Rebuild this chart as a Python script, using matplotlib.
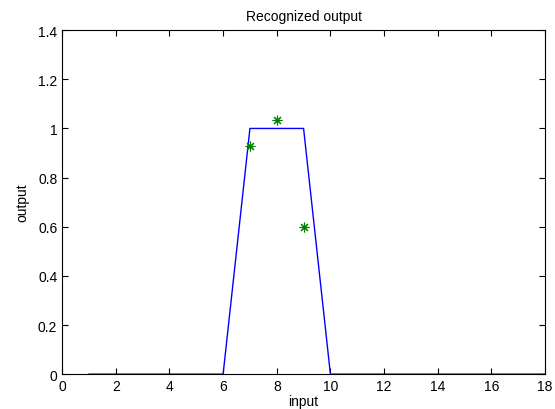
import matplotlib
matplotlib.use("Agg")
import matplotlib.pyplot as plt

plt.rcParams['font.family'] = ['Liberation Sans', 'DejaVu Sans']

x_line = [1, 2, 3, 4, 5, 6, 7, 8, 9, 10, 11, 12, 13, 14, 15, 16, 17, 18]
y_line = [0, 0, 0, 0, 0, 0, 1, 1, 1, 0, 0, 0, 0, 0, 0, 0, 0, 0]
x_pts = [7, 8, 9]
y_pts = [0.928, 1.036, 0.597]
xticks = list(range(0, 19, 2))
yticks = [0, 0.2, 0.4, 0.6, 0.8, 1, 1.2, 1.4]
ytick_labels = ['0', '0.2', '0.4', '0.6', '0.8', '1', '1.2', '1.4']

fig = plt.figure(figsize=(5.55, 4.10), dpi=100)
ax = fig.add_axes([0.112, 0.085, 0.870, 0.839])
ax.plot(x_line, y_line, color='#0000ff', lw=1.0)
ax.plot(x_pts, y_pts, linestyle='none', marker=(8, 2, 0), color='#008000',
        markersize=7, markeredgewidth=0.8)
ax.set_xlim(0, 18)
ax.set_ylim(0, 1.4)
ax.set_xticks(xticks)
ax.set_yticks(yticks)
ax.set_yticklabels(ytick_labels)
ax.tick_params(direction='in', top=True, right=True, length=4, labelsize=10, width=0.8)
for s in ax.spines.values():
    s.set_linewidth(0.8)
ax.set_xlabel('input', fontsize=10, labelpad=1)
ax.set_ylabel('output', fontsize=10, labelpad=6)
ax.set_title('Recognized output', fontsize=10, pad=7)
fig.savefig('out.png', dpi=100)
